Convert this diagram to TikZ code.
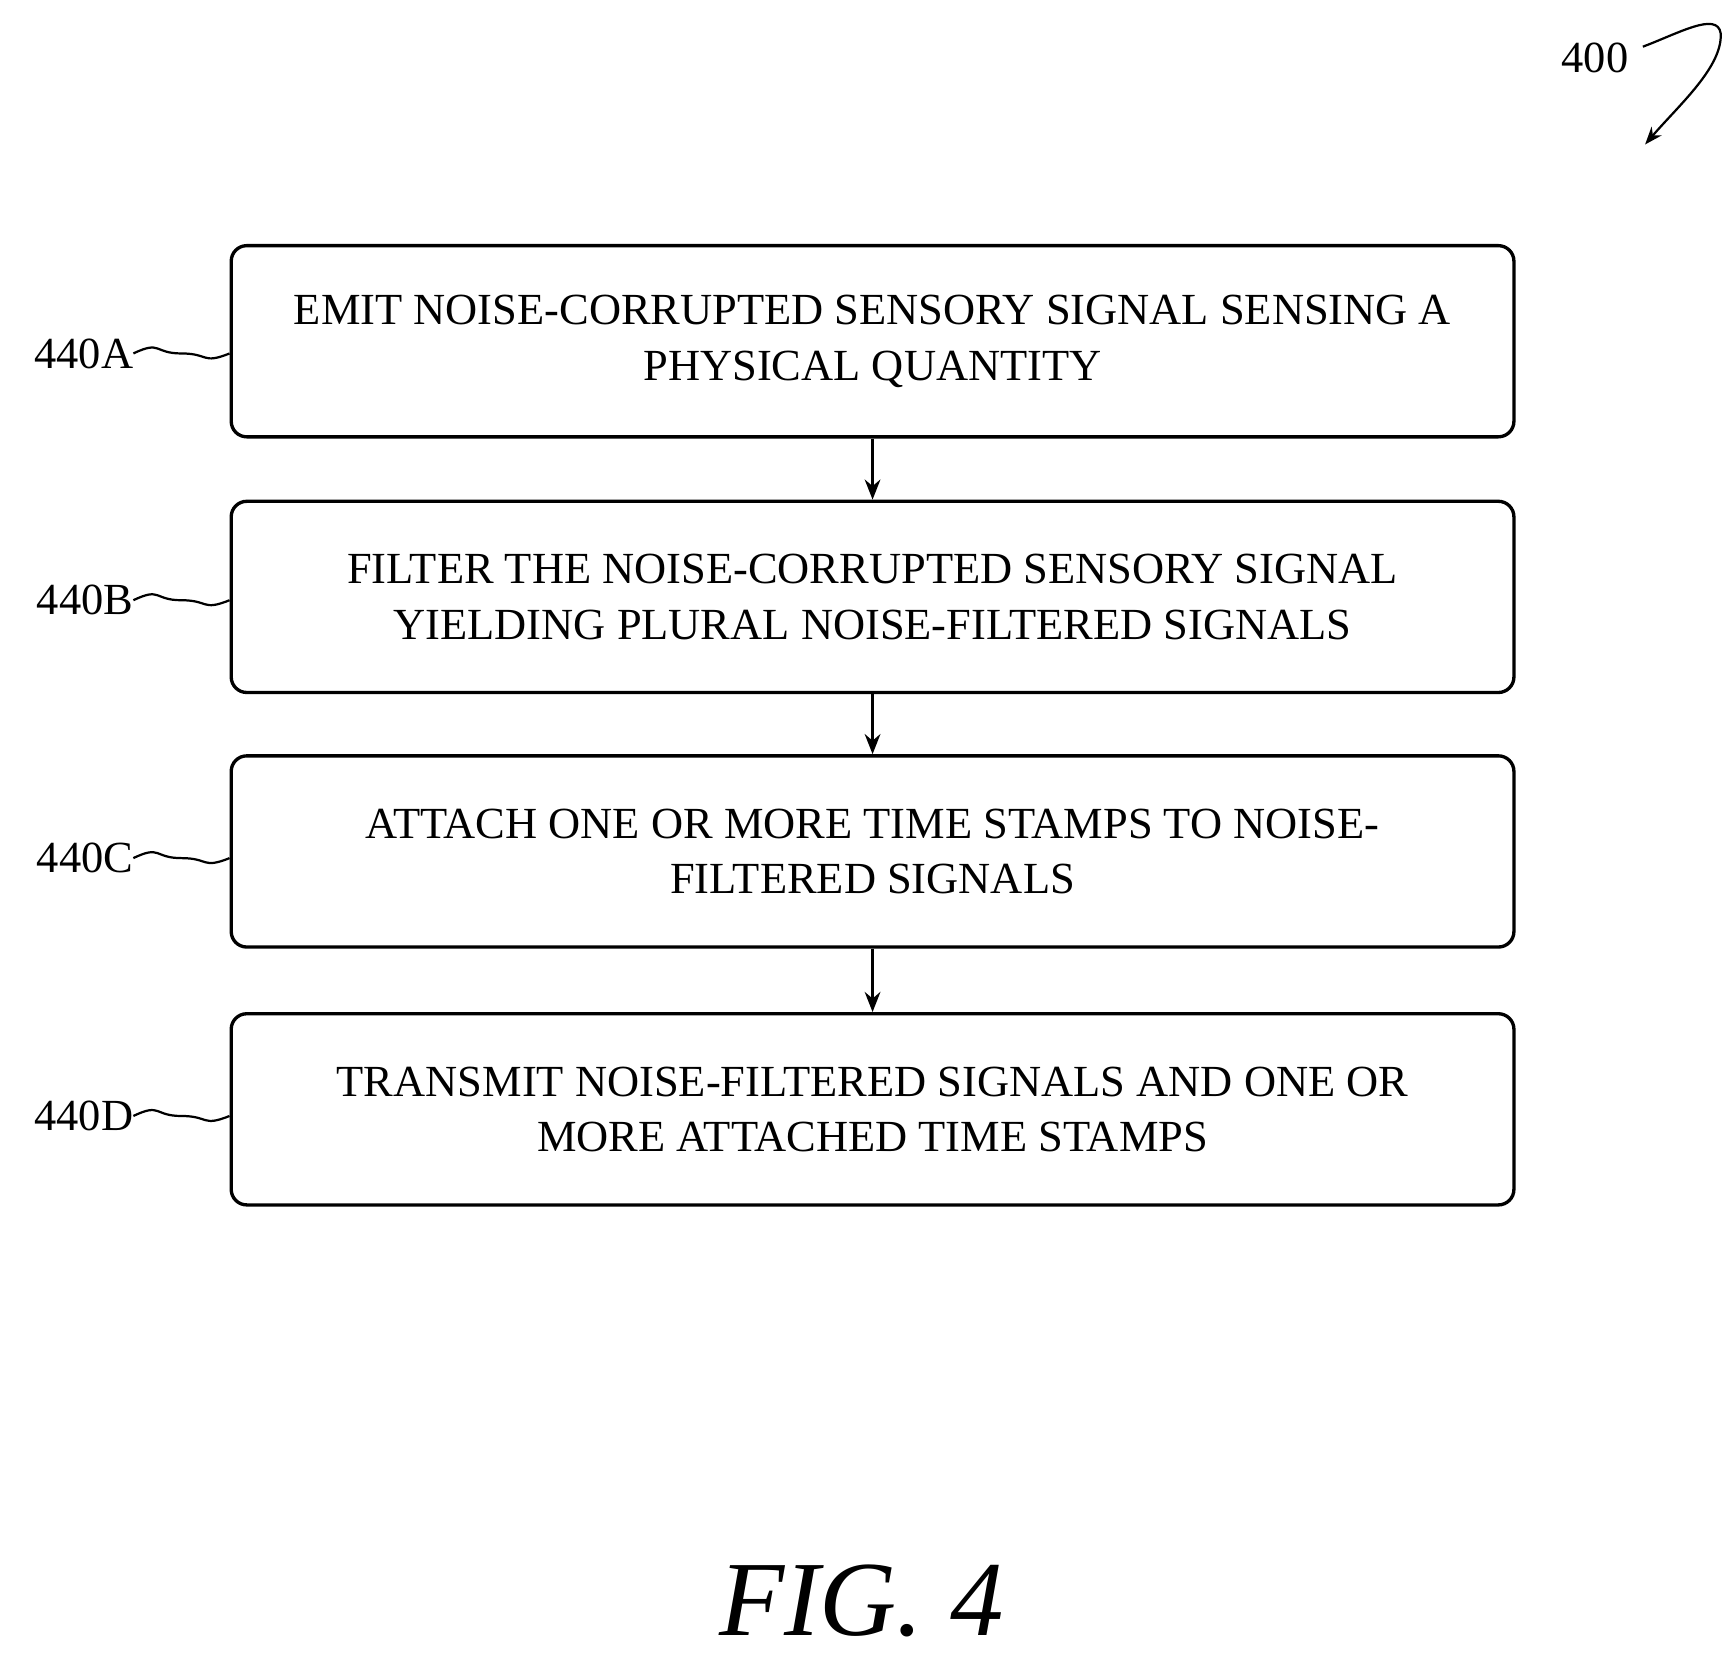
\documentclass[tikz,border=0pt]{standalone}
\usepackage{fontspec}
\setmainfont{Liberation Serif}
\usetikzlibrary{arrows.meta,calc}
\begin{document}
\begin{tikzpicture}[x=1pt,y=-1pt,
 box/.style={draw,line width=3pt,rounded corners=14pt,minimum width=1154pt,minimum height=172pt,align=center,font=\fontsize{40}{50}\selectfont,inner sep=0pt},
 lab/.style={font=\fontsize{40}{48}\selectfont,anchor=east,inner sep=0pt},
 arr/.style={line width=3pt,-{Stealth[length=18pt,width=14pt]}},
 sq/.style={line width=2pt}]
\useasboundingbox (0,0) rectangle (1560,1511);
\node[box] (a) at (785,307) {EMIT NOISE-CORRUPTED SENSORY SIGNAL SENSING A\\PHYSICAL QUANTITY};
\node[box] (b) at (785,537) {FILTER THE NOISE-CORRUPTED SENSORY SIGNAL\\YIELDING PLURAL NOISE-FILTERED SIGNALS};
\node[box] (c) at (785,766) {ATTACH ONE OR MORE TIME STAMPS TO NOISE-\\FILTERED SIGNALS};
\node[box] (d) at (785,998) {TRANSMIT NOISE-FILTERED SIGNALS AND ONE OR\\MORE ATTACHED TIME STAMPS};
\draw[arr] (a.south) -- (b.north);
\draw[arr] (b.south) -- (c.north);
\draw[arr] (c.south) -- (d.north);
\node[lab] (la) at (120,318) {440A};
\node[lab] (lb) at (120,540) {440B};
\node[lab] (lc) at (120,772) {440C};
\node[lab] (ld) at (120,1004) {440D};
\foreach \l/\b in {la/a,lb/b,lc/c,ld/d}{
 \draw[sq] (\l.east) .. controls +(25,-12) and +(-25,0) .. ($(\l.east)!0.5!(\b.west|-\l.east)$) .. controls +(25,0) and +(-25,10) .. (\b.west|-\l.east);}
\node[font=\fontsize{40}{48}\selectfont,inner sep=0pt] (n) at (1435,52) {400};
\coordinate (t) at (1480,130);
\draw[line width=2pt,-{Stealth[length=16pt,width=12pt]}] (1478,42) .. controls (1510,30) and (1545,10) .. (1548,30) .. controls (1550,60) and (1510,95) .. (t);
\node[font=\fontsize{96}{110}\selectfont\itshape,inner sep=0pt] (f) at (775,1440) {FIG. 4};
\end{tikzpicture}
\end{document}
